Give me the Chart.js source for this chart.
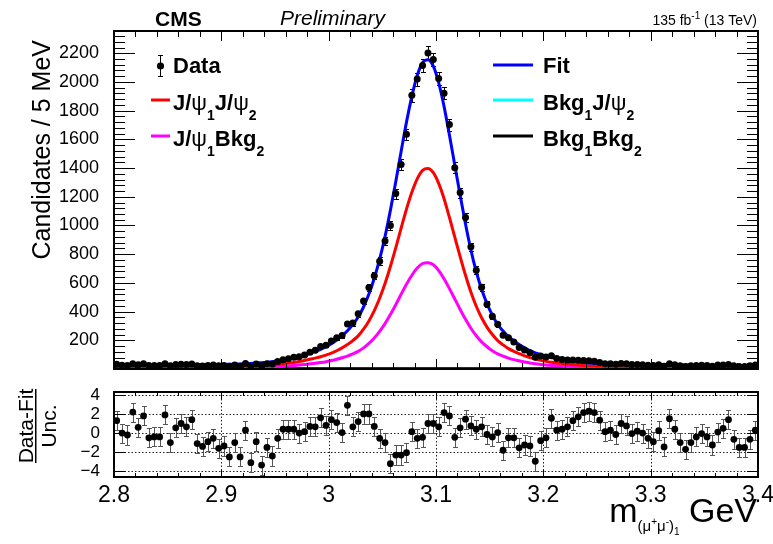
<!DOCTYPE html>
<html>
<head>
<meta charset="utf-8">
<title>m(mu mu)1 fit</title>
<script src="https://cdn.jsdelivr.net/npm/chart.js@4.4.1/dist/chart.umd.min.js"></script>
<style>
  body { margin: 0; background: #fff; }
  #page { position: relative; width: 773px; height: 544px; }
  canvas { position: absolute; left: 0; }
</style>
</head>
<body>
<div id="page">
  <canvas id="fitChart" width="773" height="380" style="top:0"></canvas>
  <canvas id="pullChart" width="773" height="164" style="top:380px"></canvas>
</div>
<script>
const FONT = '"Liberation Sans", Arial, Helvetica, sans-serif';

// histogram binning (5 MeV bins)
const massMin = 2.8;
const massMax = 3.4;
const binWidth = 0.005;

// candidates per bin
const counts = [
  33, 26, 25, 37, 29, 36, 24, 25, 25, 37,
  22, 31, 33, 31, 35, 23, 21, 25, 27, 22,
  24, 19, 28, 20, 39, 20, 35, 22, 37, 34,
  52, 65, 72, 81, 86, 98, 117, 130, 156, 165,
  195, 218, 233, 314, 321, 385, 474, 568, 650, 750,
  892, 999, 1222, 1425, 1635, 1907, 2020, 2114, 2201, 2156,
  2024, 1922, 1703, 1403, 1229, 1056, 852, 688, 570, 452,
  367, 311, 236, 218, 188, 150, 133, 113, 81, 91,
  83, 93, 74, 67, 63, 62, 61, 59, 57, 54,
  46, 37, 37, 33, 39, 36, 31, 31, 30, 26,
  24, 29, 20, 36, 29, 22, 18, 22, 24, 26,
  24, 20, 27, 28, 32, 22, 18, 18, 22, 27
];

// total fit at the bin centres
const fitTotal = [
  26, 26, 26, 26, 26, 27, 27, 27, 27, 27,
  27, 28, 28, 28, 28, 29, 29, 30, 30, 31,
  32, 33, 34, 35, 37, 39, 41, 44, 47, 51,
  56, 62, 69, 77, 86, 97, 110, 123, 137, 155,
  176, 202, 232, 267, 310, 362, 432, 522, 632, 765,
  922, 1105, 1305, 1515, 1720, 1900, 2045, 2135, 2155, 2110,
  1995, 1830, 1630, 1420, 1210, 1010, 830, 678, 555, 455,
  375, 310, 265, 225, 195, 170, 148, 128, 112, 99,
  88, 79, 71, 64, 58, 53, 49, 45, 42, 40,
  38, 36, 35, 34, 33, 32, 31, 30, 30, 29,
  29, 28, 28, 28, 27, 27, 27, 27, 26, 26,
  26, 26, 26, 25, 25, 25, 25, 25, 25, 25
];

// J/psi_1 J/psi_2 component
const jpsiJpsi = [
  13, 13, 13, 13, 13, 14, 14, 14, 14, 14,
  14, 14, 14, 14, 14, 15, 15, 16, 16, 16,
  17, 18, 18, 19, 20, 21, 23, 25, 27, 29,
  32, 36, 41, 46, 52, 59, 68, 76, 85, 97,
  110, 127, 147, 170, 198, 231, 277, 335, 407, 493,
  595, 714, 844, 981, 1114, 1231, 1325, 1384, 1397, 1368,
  1293, 1186, 1056, 919, 783, 653, 536, 437, 357, 292,
  240, 198, 168, 142, 123, 107, 92, 79, 69, 60,
  53, 47, 42, 38, 34, 30, 28, 25, 23, 22,
  21, 19, 19, 18, 17, 17, 16, 16, 16, 15,
  15, 14, 14, 14, 14, 14, 14, 14, 13, 13,
  13, 13, 13, 12, 12, 12, 12, 12, 12, 12
];

// J/psi_1 Bkg_2 component
const jpsiBkg = [
  7, 7, 7, 7, 7, 7, 7, 7, 7, 7,
  7, 8, 8, 8, 8, 8, 8, 8, 8, 9,
  9, 9, 10, 10, 11, 12, 12, 13, 14, 15,
  17, 19, 22, 24, 28, 31, 36, 40, 45, 51,
  59, 68, 78, 90, 105, 123, 147, 178, 216, 262,
  316, 379, 448, 521, 591, 653, 703, 735, 741, 726,
  686, 629, 560, 488, 415, 346, 284, 232, 189, 155,
  127, 105, 89, 76, 65, 57, 49, 42, 37, 32,
  28, 25, 22, 20, 18, 16, 15, 13, 12, 12,
  11, 10, 10, 10, 9, 9, 9, 8, 8, 8,
  8, 8, 8, 8, 7, 7, 7, 7, 7, 7,
  7, 7, 7, 7, 7, 7, 7, 7, 7, 7
];

// the two background-in-m1 components are almost flat near zero
const flatMass = [2.8, 3.0, 3.2, 3.4];
const bkgJpsi = [4, 4, 4, 4];
const bkgBkg = [2, 2, 2, 2];

// (data - fit) / uncertainty
const pulls = [
  1.3, 0.0, -0.2, 2.2, 0.6, 1.8, -0.5, -0.4, -0.4, 1.9,
  -1.0, 0.55, 1.0, 0.65, 1.4, -1.1, -1.4, -0.9, -0.55, -1.6,
  -1.35, -2.5, -1.0, -2.5, 0.3, -3.1, -0.9, -3.35, -1.5, -2.4,
  -0.55, 0.4, 0.4, 0.4, 0.0, 0.15, 0.7, 0.65, 1.6, 0.8,
  1.4, 1.1, 0.05, 2.9, 0.65, 1.2, 2.0, 2.0, 0.7, -0.55,
  -1.0, -3.2, -2.3, -2.3, -2.05, 0.15, -0.55, -0.45, 1.0, 1.0,
  0.65, 2.15, 1.8, -0.45, 0.55, 1.45, 0.75, 0.4, 0.65, -0.15,
  -0.4, 0.05, -1.8, -0.5, -0.5, -1.55, -1.25, -1.35, -2.95, -0.8,
  -0.5, 1.55, 0.3, 0.4, 0.65, 1.3, 1.7, 2.15, 2.3, 2.15,
  1.35, 0.15, 0.3, -0.15, 1.0, 0.75, -0.05, 0.2, 0.0, -0.55,
  -0.9, 0.25, -1.45, 1.5, 0.4, -1.0, -1.7, -1.0, -0.4, -0.05,
  -0.4, -1.25, 0.1, 0.5, 1.4, -0.65, -1.5, -1.5, -0.65, 0.3
];

const countTicks = [0, 200, 400, 600, 800, 1000, 1200, 1400, 1600, 1800, 2000, 2200];
const massTicks = [2.8, 2.9, 3.0, 3.1, 3.2, 3.3, 3.4];
const pullTicks = [-4, -2, 0, 2, 4];

const binCenters = counts.map((_, i) => +(massMin + (i + 0.5) * binWidth).toFixed(4));
const xy = (xs, ys) => xs.map((x, i) => ({ x: x, y: ys[i] }));

function curve(label, xs, ys, color, order) {
  return {
    label: label,
    type: 'line',
    data: xy(xs, ys),
    borderColor: color,
    borderWidth: 3,
    pointRadius: 0,
    fill: false,
    cubicInterpolationMode: 'monotone',
    order: order
  };
}

// vertical error bars, drawn under the markers
function errorBars(values, errors, color, cap) {
  return {
    id: 'errorBars',
    beforeDatasetsDraw(chart) {
      const { ctx, scales: { x, y } } = chart;
      ctx.save();
      ctx.strokeStyle = color;
      ctx.lineWidth = 1;
      ctx.beginPath();
      values.forEach((v, i) => {
        const px = Math.round(x.getPixelForValue(binCenters[i])) + 0.5;
        const top = Math.round(y.getPixelForValue(v + errors[i])) + 0.5;
        const bot = Math.round(y.getPixelForValue(v - errors[i])) + 0.5;
        ctx.moveTo(px, top); ctx.lineTo(px, bot);
        ctx.moveTo(px - cap, top); ctx.lineTo(px + cap, top);
        ctx.moveTo(px - cap, bot); ctx.lineTo(px + cap, bot);
      });
      ctx.stroke();
      ctx.restore();
    }
  };
}

// ROOT-like frame with ticks pointing inwards
function frame(cfg) {
  return {
    id: 'frame',
    afterDraw(chart) {
      const { ctx, chartArea: a, scales: { x, y } } = chart;
      ctx.save();
      ctx.strokeStyle = '#000';
      ctx.lineWidth = 1;
      ctx.beginPath();
      const hTick = (v, len) => {
        const py = Math.round(y.getPixelForValue(v)) + 0.5;
        if (py < a.top || py > a.bottom) return;
        ctx.moveTo(a.left, py); ctx.lineTo(a.left + len, py);
        ctx.moveTo(a.right, py); ctx.lineTo(a.right - len, py);
      };
      const vTick = (v, len) => {
        const px = Math.round(x.getPixelForValue(v)) + 0.5;
        ctx.moveTo(px, a.bottom); ctx.lineTo(px, a.bottom - len);
        if (cfg.topTicks) { ctx.moveTo(px, a.top); ctx.lineTo(px, a.top + len); }
      };
      if (cfg.yMinorStep) {
        for (let v = y.min; v <= y.max; v += cfg.yMinorStep) hTick(v, cfg.yMinorLen);
      }
      cfg.yMajor.forEach(v => hTick(v, cfg.yMajorLen));
      for (let k = 0; k <= 30; k++) vTick(massMin + k * 0.02, cfg.xMinorLen);
      massTicks.forEach(v => vTick(v, cfg.xMajorLen));
      ctx.stroke();
      ctx.lineWidth = 2;
      ctx.strokeRect(a.left, a.top, a.right - a.left, a.bottom - a.top);
      ctx.restore();
    }
  };
}

function drawRich(ctx, x, y, parts, align) {
  let w = 0;
  parts.forEach(p => { ctx.font = p[1]; w += ctx.measureText(p[0]).width; });
  let cx = align === 'right' ? x - w : (align === 'center' ? x - w / 2 : x);
  parts.forEach(p => {
    ctx.font = p[1];
    ctx.fillText(p[0], cx, y + (p[2] || 0));
    cx += ctx.measureText(p[0]).width;
  });
}

const B22 = 'bold 22px ' + FONT;
const N22 = '22px ' + FONT;
const B14 = 'bold 14px ' + FONT;

const labels = {
  id: 'labels',
  afterDraw(chart) {
    const ctx = chart.ctx;
    ctx.save();
    ctx.fillStyle = '#000';
    ctx.textBaseline = 'alphabetic';
    ctx.textAlign = 'left';

    ctx.font = 'bold 21px ' + FONT;
    ctx.fillText('CMS', 155, 26);
    ctx.font = 'italic 21px ' + FONT;
    ctx.fillText('Preliminary', 280, 25);
    drawRich(ctx, 757, 25, [
      ['135 fb', '14px ' + FONT], ['-1', '10px ' + FONT, -6], [' (13 TeV)', '14px ' + FONT]
    ], 'right');

    // y title
    ctx.save();
    ctx.translate(50, 40);
    ctx.rotate(-Math.PI / 2);
    ctx.textAlign = 'right';
    ctx.font = '25px ' + FONT;
    ctx.fillText('Candidates / 5 MeV', 0, 0);
    ctx.restore();

    // legend
    ctx.strokeStyle = '#000';
    ctx.lineWidth = 1;
    ctx.beginPath();
    ctx.moveTo(160.5, 55); ctx.lineTo(160.5, 77);
    ctx.moveTo(158, 55.5); ctx.lineTo(163, 55.5);
    ctx.moveTo(158, 76.5); ctx.lineTo(163, 76.5);
    ctx.stroke();
    ctx.beginPath();
    ctx.arc(160.5, 66, 3.6, 0, 2 * Math.PI);
    ctx.fill();

    const legendLine = (x0, x1, y, color) => {
      ctx.strokeStyle = color;
      ctx.lineWidth = 3;
      ctx.beginPath();
      ctx.moveTo(x0, y); ctx.lineTo(x1, y);
      ctx.stroke();
    };
    legendLine(151, 170, 100, '#ff0000');
    legendLine(151, 170, 136, '#ff00ff');
    legendLine(493, 533, 65, '#0000ff');
    legendLine(493, 533, 100, '#00ffff');
    legendLine(493, 533, 136, '#000000');

    ctx.fillStyle = '#000';
    drawRich(ctx, 173, 73, [['Data', B22]]);
    drawRich(ctx, 173, 110, [['J/', B22], ['\u03c8', N22], ['1', B14, 10], ['J/', B22], ['\u03c8', N22], ['2', B14, 10]]);
    drawRich(ctx, 173, 146, [['J/', B22], ['\u03c8', N22], ['1', B14, 10], ['Bkg', B22], ['2', B14, 10]]);
    drawRich(ctx, 543, 73, [['Fit', B22]]);
    drawRich(ctx, 543, 110, [['Bkg', B22], ['1', B14, 10], ['J/', B22], ['\u03c8', N22], ['2', B14, 10]]);
    drawRich(ctx, 543, 146, [['Bkg', B22], ['1', B14, 10], ['Bkg', B22], ['2', B14, 10]]);
    ctx.restore();
  }
};

const fitChart = new Chart(document.getElementById('fitChart'), {
  type: 'scatter',
  data: {
    datasets: [
      {
        label: 'Data',
        data: xy(binCenters, counts),
        pointRadius: 3.5,
        pointBackgroundColor: '#000',
        pointBorderWidth: 0,
        order: 0
      },
      curve('Fit', binCenters, fitTotal, '#0000ff', 1),
      curve('J/psi1 J/psi2', binCenters, jpsiJpsi, '#ff0000', 2),
      curve('J/psi1 Bkg2', binCenters, jpsiBkg, '#ff00ff', 3),
      curve('Bkg1 Bkg2', flatMass, bkgBkg, '#000000', 4),
      curve('Bkg1 J/psi2', flatMass, bkgJpsi, '#00ffff', 5)
    ]
  },
  options: {
    responsive: false,
    animation: false,
    devicePixelRatio: 1,
    layout: { padding: { left: 0, right: 15, top: 31, bottom: 11 } },
    plugins: { legend: { display: false }, tooltip: { enabled: false } },
    scales: {
      x: { type: 'linear', min: massMin, max: massMax, display: false },
      y: {
        min: 0,
        max: 2355,
        afterBuildTicks: s => { s.ticks = countTicks.map(v => ({ value: v })); },
        afterFit: s => { s.width = 114; s.paddingTop = 0; s.paddingBottom = 0; },
        grid: { display: false },
        border: { display: false },
        ticks: {
          color: '#000',
          padding: 7,
          autoSkip: false,
          font: { family: FONT, size: 18 },
          callback: v => (v === 0 ? '' : String(v))
        }
      }
    }
  },
  plugins: [
    errorBars(counts, counts.map(c => Math.sqrt(c)), '#000', 2.5),
    frame({ yMajor: countTicks, yMinorStep: 40, yMajorLen: 21, yMinorLen: 11, xMajorLen: 10, xMinorLen: 6, topTicks: true }),
    labels
  ]
});

const pullGrid = {
  id: 'pullGrid',
  beforeDatasetsDraw(chart) {
    const { ctx, chartArea: a, scales: { x, y } } = chart;
    ctx.save();
    ctx.strokeStyle = '#222';
    ctx.lineWidth = 1;
    ctx.setLineDash([1.5, 2]);
    ctx.beginPath();
    pullTicks.forEach(v => {
      const py = Math.round(y.getPixelForValue(v)) + 0.5;
      ctx.moveTo(a.left, py); ctx.lineTo(a.right, py);
    });
    massTicks.slice(1, -1).forEach(v => {
      const px = Math.round(x.getPixelForValue(v)) + 0.5;
      ctx.moveTo(px, a.top); ctx.lineTo(px, a.bottom);
    });
    ctx.stroke();
    ctx.restore();
  }
};

const pullLabels = {
  id: 'pullLabels',
  afterDraw(chart) {
    const ctx = chart.ctx;
    ctx.save();
    ctx.fillStyle = '#000';
    ctx.textBaseline = 'alphabetic';

    // fraction (Data-Fit)/Unc., rotated
    ctx.save();
    ctx.translate(0, 46);
    ctx.rotate(-Math.PI / 2);
    ctx.textAlign = 'center';
    ctx.font = '21px ' + FONT;
    ctx.fillText('Data-Fit', 0, 33);
    ctx.fillText('Unc.', 0, 56);
    ctx.fillRect(-37, 35, 74, 1.5);
    ctx.restore();

    // x title
    const big = '34px ' + FONT, sub = '15px ' + FONT, tiny = '10px ' + FONT;
    drawRich(ctx, 757, 142, [
      ['m', big], ['(\u03bc', sub, 9], ['+', tiny, 3], ['\u03bc', sub, 9], ['-', tiny, 3], [')', sub, 9], ['1', tiny, 13],
      [' GeV', big]
    ], 'right');
    ctx.restore();
  }
};

const pullChart = new Chart(document.getElementById('pullChart'), {
  type: 'scatter',
  data: {
    datasets: [{
      label: 'Pull',
      data: xy(binCenters, pulls),
      pointRadius: 3.4,
      pointBackgroundColor: '#000',
      pointBorderWidth: 0
    }]
  },
  options: {
    responsive: false,
    animation: false,
    devicePixelRatio: 1,
    layout: { padding: { left: 0, right: 15, top: 12, bottom: 27 } },
    plugins: { legend: { display: false }, tooltip: { enabled: false } },
    scales: {
      x: {
        type: 'linear',
        min: massMin,
        max: massMax,
        afterBuildTicks: s => { s.ticks = massTicks.map(v => ({ value: v })); },
        afterFit: s => { s.height = 40; s.paddingLeft = 0; s.paddingRight = 0; },
        grid: { display: false },
        border: { display: false },
        ticks: {
          color: '#000',
          padding: -3,
          maxRotation: 0,
          autoSkip: false,
          font: { family: FONT, size: 23 },
          callback: v => String(+v.toFixed(1))
        }
      },
      y: {
        min: -4.6,
        max: 4.3,
        afterBuildTicks: s => { s.ticks = pullTicks.map(v => ({ value: v })); },
        afterFit: s => { s.width = 114; s.paddingTop = 0; s.paddingBottom = 0; },
        grid: { display: false },
        border: { display: false },
        ticks: {
          color: '#000',
          padding: 6,
          autoSkip: false,
          font: { family: FONT, size: 17 },
          callback: v => (v < 0 ? '\u2212' + Math.abs(v) : String(v))
        }
      }
    }
  },
  plugins: [
    pullGrid,
    errorBars(pulls, pulls.map(() => 1), '#555', 2.5),
    frame({ yMajor: pullTicks, yMinorStep: 0, yMajorLen: 11, yMinorLen: 0, xMajorLen: 7, xMinorLen: 4, topTicks: true }),
    pullLabels
  ]
});
</script>
</body>
</html>
